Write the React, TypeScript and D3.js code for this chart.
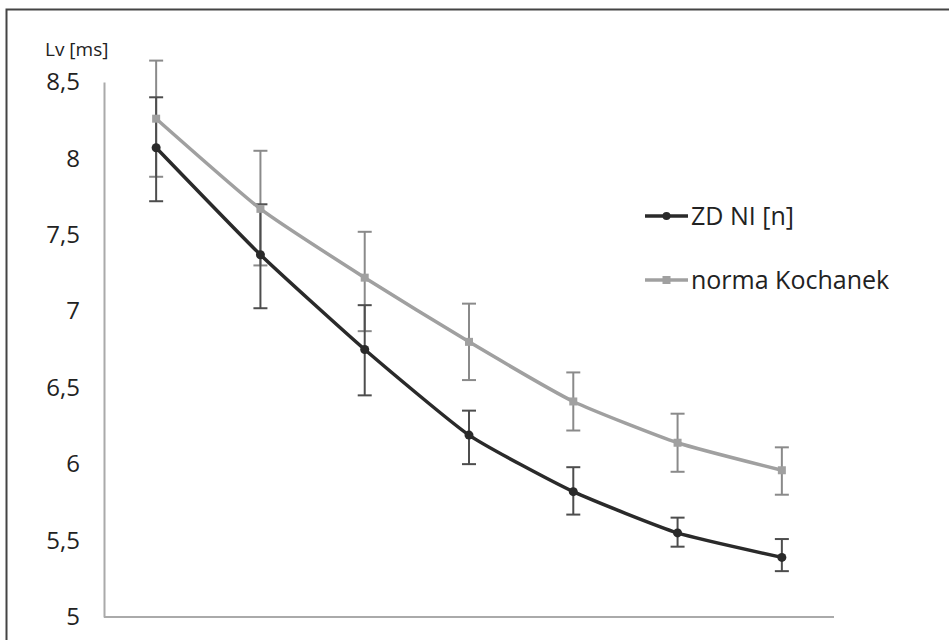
import React, { useEffect, useRef } from "react";
import * as d3 from "d3";

const categories = ["1", "2", "3", "4", "5", "6", "7"];
const yTicks = [5, 5.5, 6, 6.5, 7, 7.5, 8, 8.5];

const zdValues = [8.07, 7.37, 6.75, 6.19, 5.82, 5.55, 5.39];
const zdLow = [7.72, 7.02, 6.45, 6.0, 5.67, 5.46, 5.3];
const zdHigh = [8.4, 7.7, 7.04, 6.35, 5.98, 5.65, 5.51];

const kochValues = [8.26, 7.67, 7.22, 6.8, 6.41, 6.14, 5.96];
const kochLow = [7.88, 7.3, 6.87, 6.55, 6.22, 5.95, 5.8];
const kochHigh = [8.64, 8.05, 7.52, 7.05, 6.6, 6.33, 6.11];

const W = 949;
const H = 640;
const font = "'Open Sans', 'Noto Sans', sans-serif";

const App = () => {
  const svgRef = useRef<SVGSVGElement>(null);

  useEffect(() => {
    const svg = d3.select(svgRef.current);
    svg.selectAll("*").remove();

    // frame (only left and top edges are in view)
    svg
      .append("path")
      .attr("d", `M6.5,${H} V9.5 H${W}`)
      .attr("fill", "none")
      .attr("stroke", "#444")
      .attr("stroke-width", 2);

    const x = d3.scaleBand<string>().domain(categories).range([104, 834]).padding(0);
    const y = d3.scaleLinear().domain([5, 8.5]).range([617, 82]);
    const cx = (i: number) => (x(categories[i]) as number) + x.bandwidth() / 2;

    // axes
    const yAxis = d3
      .axisLeft(y)
      .tickValues(yTicks)
      .tickSize(0)
      .tickPadding(24)
      .tickFormat((d) => String(d).replace(".", ","));
    svg
      .append("g")
      .attr("transform", "translate(104,0)")
      .call(yAxis)
      .call((g) => g.select(".domain").attr("stroke", "#aaa").attr("stroke-width", 2))
      .call((g) =>
        g
          .selectAll("text")
          .attr("font-family", font)
          .attr("font-size", 24)
          .attr("fill", "#222"),
      );

    svg
      .append("line")
      .attr("x1", 104)
      .attr("x2", 834)
      .attr("y1", y(5))
      .attr("y2", y(5))
      .attr("stroke", "#aaa")
      .attr("stroke-width", 2);

    svg
      .append("text")
      .attr("x", 45)
      .attr("y", 56)
      .attr("font-family", font)
      .attr("font-size", 19)
      .attr("fill", "#222")
      .text("Lv [ms]");

    const series = [
      { name: "ZD NI [n]", values: zdValues, low: zdLow, high: zdHigh, line: "#2a2a2a", bar: "#4d4d4d", marker: "circle" },
      { name: "norma Kochanek", values: kochValues, low: kochLow, high: kochHigh, line: "#a0a0a0", bar: "#8a8a8a", marker: "square" },
    ];

    const line = d3
      .line<number>()
      .x((_, i) => cx(i))
      .y((d) => y(d))
      .curve(d3.curveCardinal.tension(0.5));

    // error bars first, lines on top
    series
      .slice()
      .reverse()
      .forEach((s) => {
        const g = svg.append("g");
        s.values.forEach((_, i) => {
          const px = cx(i);
          g.append("line")
            .attr("x1", px).attr("x2", px)
            .attr("y1", y(s.low[i])).attr("y2", y(s.high[i]))
            .attr("stroke", s.bar).attr("stroke-width", 2);
          [s.low[i], s.high[i]].forEach((v) => {
            g.append("line")
              .attr("x1", px - 7).attr("x2", px + 7)
              .attr("y1", y(v)).attr("y2", y(v))
              .attr("stroke", s.bar).attr("stroke-width", 2);
          });
        });
      });

    series
      .slice()
      .reverse()
      .forEach((s) => {
        svg
          .append("path")
          .datum(s.values)
          .attr("d", line)
          .attr("fill", "none")
          .attr("stroke", s.line)
          .attr("stroke-width", 3.5);
        s.values.forEach((v, i) => {
          if (s.marker === "circle") {
            svg.append("circle").attr("cx", cx(i)).attr("cy", y(v)).attr("r", 4.5).attr("fill", s.line);
          } else {
            svg
              .append("rect")
              .attr("x", cx(i) - 4).attr("y", y(v) - 4)
              .attr("width", 8).attr("height", 8)
              .attr("fill", s.line);
          }
        });
      });

    // legend
    const legend = svg.append("g").attr("transform", "translate(645,216)");
    series.forEach((s, i) => {
      const row = legend.append("g").attr("transform", `translate(0,${i * 64})`);
      row.append("line").attr("x1", 0).attr("x2", 43).attr("stroke", s.line).attr("stroke-width", 3.5);
      if (s.marker === "circle") {
        row.append("circle").attr("cx", 21.5).attr("r", 4).attr("fill", s.line);
      } else {
        row.append("rect").attr("x", 17.5).attr("y", -4).attr("width", 8).attr("height", 8).attr("fill", s.line);
      }
      row
        .append("text")
        .attr("x", 46)
        .attr("y", 9)
        .attr("font-family", font)
        .attr("font-size", 25)
        .attr("fill", "#222")
        .text(s.name);
    });
  }, []);

  return <svg ref={svgRef} width={W} height={H} style={{ position: "absolute", left: 0, top: 0, background: "#fff" }} />;
};

export default App;
